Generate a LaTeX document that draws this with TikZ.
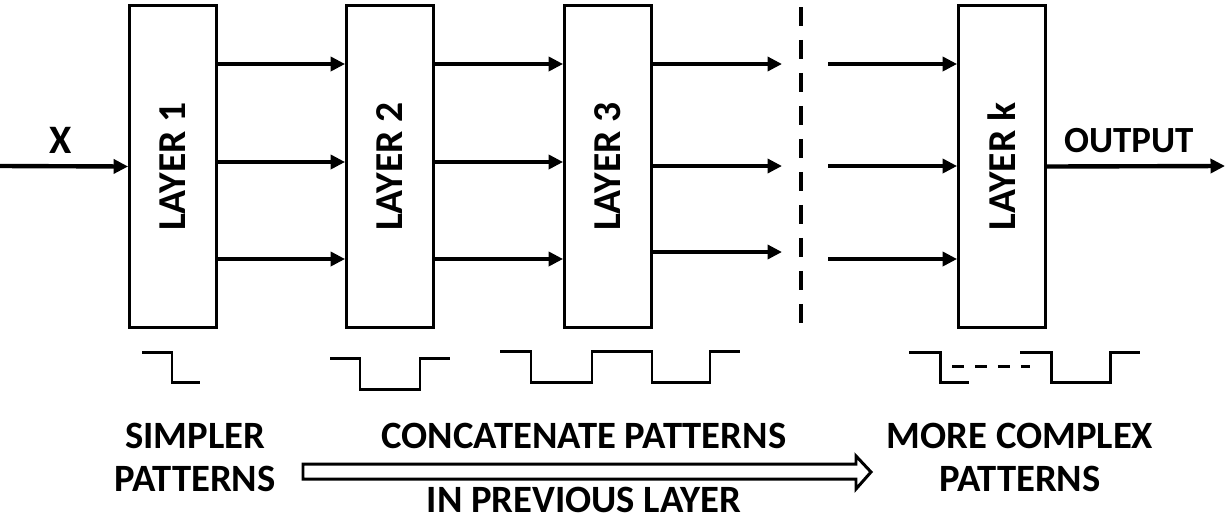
\documentclass[tikz,border=0pt]{standalone}
\usepackage{fontspec}
\setmainfont{Carlito}
\usetikzlibrary{arrows.meta}

\tikzset{
  layer/.style={draw, line width=1.6pt, minimum width=1.74cm, minimum height=6.44cm, inner sep=0pt, font=\bfseries\fontsize{22.5}{26}\selectfont},
  flow/.style={line width=2.5pt, -{Triangle[length=0.29cm,width=0.28cm]}},
  tag/.style={inner sep=0pt, font=\bfseries\fontsize{21}{24}\selectfont},
  wave/.style={line width=1.7pt},
  sepline/.style={line width=2.2pt, dash pattern=on 0.38cm off 0.28cm},
  caption/.style={align=center, inner sep=0pt, font=\bfseries\fontsize{22}{24.5}\selectfont}
}

\begin{document}
\begin{tikzpicture}[x=0.02cm,y=-0.02cm]
    \useasboundingbox (0,0) rectangle (1225,525);

    % layers
    \node[layer] (l1) at (173,166.5) {\rotatebox{90}{LAYER 1}};
    \node[layer] (l2) at (390,166.5) {\rotatebox{90}{LAYER 2}};
    \node[layer] (l3) at (608,166.5) {\rotatebox{90}{LAYER 3}};
    \node[layer] (lk) at (1002,166.5) {\rotatebox{90}{LAYER k}};

    % input and output
    \coordinate (in) at (0,166);
    \coordinate (out) at (1225,166);
    \draw[flow] (in) -- (l1.west) node[tag, pos=0.47, above=0.22cm, font=\bfseries\fontsize{23}{26}\selectfont] {X};
    \draw[flow] (lk.east) -- (out) node[tag, pos=0.46, above=0.23cm] {OUTPUT};

    % rows of arrows
    \foreach \y [count=\i] in {64,162,259} {
        \coordinate (a\i) at (0,\y);
        \draw[flow] (l1.east |- a\i) -- (l2.west |- a\i);
        \draw[flow] (l2.east |- a\i) -- (l3.west |- a\i);
    }
    \foreach \y [count=\i] in {64,166,252} {
        \coordinate (d\i) at (782,\y);
        \draw[flow] (l3.east |- d\i) -- (d\i);
    }
    \foreach \y [count=\i] in {64,166,259} {
        \coordinate (e\i) at (828,\y);
        \draw[flow] (e\i) -- (lk.west |- e\i);
    }

    % separator
    \coordinate (dtop) at (801,7);
    \coordinate (dbot) at (801,326);
    \draw[sepline] (dtop) -- (dbot);

    % patterns
    \draw[wave] (142,352) -- (172,352) -- (172,382) -- (200,382);
    \draw[wave] (330,358) -- (360,358) -- (360,389) -- (420,389) -- (420,358) -- (450,358);
    \draw[wave] (500,351) -- (531,351) -- (531,382) -- (592,382) -- (592,351) -- (652,351) -- (652,382) -- (710,382) -- (710,351) -- (740,351);
    \draw[wave] (909,352) -- (940,352) -- (940,382) -- (969,382);
    \draw[wave, dash pattern=on 0.24cm off 0.22cm] (952,366) -- (1030,366);
    \draw[wave] (1020,352) -- (1051,352) -- (1051,382) -- (1110,382) -- (1110,352) -- (1140,352);

    % big arrow
    \draw[line width=1.7pt] (303,464) -- (856,464) -- (856,456) -- (871,472) -- (856,489) -- (856,479) -- (303,479) -- cycle;

    % captions
    \node[caption] (simple) at (195,457) {SIMPLER\\PATTERNS};
    \node[caption] (concat) at (584,436) {CONCATENATE PATTERNS};
    \node[caption] (prev) at (584,500) {IN PREVIOUS LAYER};
    \node[caption] (complex) at (1020,457) {MORE COMPLEX\\PATTERNS};
\end{tikzpicture}
\end{document}
